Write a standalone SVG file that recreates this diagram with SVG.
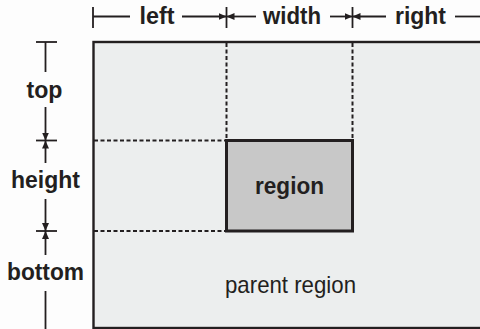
<svg xmlns="http://www.w3.org/2000/svg" width="480" height="329" viewBox="0 0 480 329">
<defs>
<marker id="ah" viewBox="0 0 8 7" refX="8" refY="3.5" markerWidth="8" markerHeight="7" markerUnits="userSpaceOnUse" orient="auto">
<path d="M0,0 L8,3.5 L0,7 Z" fill="#231f20"/>
</marker>
<style>
.dim{stroke:#231f20;stroke-width:1.8;fill:none}
.dash{stroke:#231f20;stroke-width:2;stroke-dasharray:4 2.5;fill:none}
.lbl{font-family:"Liberation Sans",Arial,sans-serif;font-weight:bold;font-size:24px;fill:#231f20;text-anchor:middle}
.plain{font-family:"Liberation Sans",Arial,sans-serif;font-size:24px;fill:#231f20;text-anchor:middle}
</style>
</defs>
<rect width="480" height="329" fill="#fdfdfd"/>
<g id="parent-region">
<rect x="93.5" y="42" width="400" height="286" fill="#eceeee" stroke="#231f20" stroke-width="2.4"/>
<text class="plain" x="290.5" y="293" textLength="131" lengthAdjust="spacingAndGlyphs">parent region</text>
</g>
<g id="guides">
<line class="dash" x1="226.5" y1="43" x2="226.5" y2="140"/>
<line class="dash" x1="352.5" y1="43" x2="352.5" y2="140"/>
<line class="dash" x1="94" y1="140.5" x2="226" y2="140.5"/>
<line class="dash" x1="94" y1="231" x2="226" y2="231"/>
</g>
<g id="region">
<rect x="226.5" y="140.5" width="126" height="90.5" fill="#c8c8c8" stroke="#231f20" stroke-width="3"/>
<text class="lbl" x="289.5" y="194" textLength="69" lengthAdjust="spacingAndGlyphs">region</text>
</g>
<g id="connectors">
<line class="dim" x1="93" y1="7" x2="93" y2="28"/>
<line class="dim" x1="226.5" y1="7" x2="226.5" y2="28"/>
<line class="dim" x1="352.5" y1="7" x2="352.5" y2="28"/>
<line class="dim" x1="93" y1="16.5" x2="130" y2="16.5"/>
<line class="dim" x1="182" y1="16.5" x2="226.5" y2="16.5" marker-end="url(#ah)"/>
<line class="dim" x1="256" y1="16.5" x2="226.5" y2="16.5" marker-end="url(#ah)"/>
<line class="dim" x1="330" y1="16.5" x2="352.5" y2="16.5" marker-end="url(#ah)"/>
<line class="dim" x1="386" y1="16.5" x2="352.5" y2="16.5" marker-end="url(#ah)"/>
<line class="dim" x1="455" y1="16.5" x2="480" y2="16.5"/>
<line class="dim" x1="36" y1="42" x2="57" y2="42"/>
<line class="dim" x1="36" y1="140.5" x2="57" y2="140.5"/>
<line class="dim" x1="36" y1="231" x2="57" y2="231"/>
<line class="dim" x1="45.5" y1="42" x2="45.5" y2="72"/>
<line class="dim" x1="45.5" y1="107" x2="45.5" y2="140.5" marker-end="url(#ah)"/>
<line class="dim" x1="45.5" y1="163" x2="45.5" y2="140.5" marker-end="url(#ah)"/>
<line class="dim" x1="45.5" y1="199" x2="45.5" y2="231" marker-end="url(#ah)"/>
<line class="dim" x1="45.5" y1="255" x2="45.5" y2="231" marker-end="url(#ah)"/>
<line class="dim" x1="45.5" y1="291" x2="45.5" y2="329"/>
</g>
<g id="labels">
<text class="lbl" x="157" y="24" textLength="35" lengthAdjust="spacingAndGlyphs">left</text>
<text class="lbl" x="292" y="24" textLength="58" lengthAdjust="spacingAndGlyphs">width</text>
<text class="lbl" x="420.5" y="24" textLength="51" lengthAdjust="spacingAndGlyphs">right</text>
<text class="lbl" x="44.5" y="98" textLength="36" lengthAdjust="spacingAndGlyphs">top</text>
<text class="lbl" x="45.5" y="188" textLength="69" lengthAdjust="spacingAndGlyphs">height</text>
<text class="lbl" x="45.5" y="280" textLength="77" lengthAdjust="spacingAndGlyphs">bottom</text>
</g>
</svg>
